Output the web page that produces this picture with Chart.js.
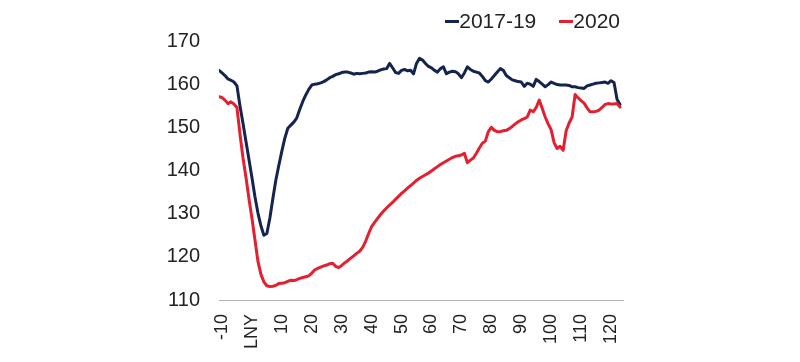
<!DOCTYPE html>
<html>
<head>
<meta charset="utf-8">
<script src="https://cdn.jsdelivr.net/npm/chart.js@4/dist/chart.umd.min.js"></script>
<style>
  html, body { margin: 0; padding: 0; background: #fff; }
  #wrap { position: relative; width: 800px; height: 362px; }
  #legend { position: absolute; right: 180px; top: 8px; display: flex; gap: 23px;
            font-family: "Liberation Sans", Arial, sans-serif; font-size: 21px; color: #222; line-height: 26px; }
  #legend .item { display: flex; align-items: center; }
  #legend .dash { display: inline-block; width: 14px; height: 3px; margin-right: 0; }
</style>
</head>
<body>
<div id="wrap">
  <canvas id="c" width="800" height="362"></canvas>
  <div id="legend"></div>
</div>
<script>
// Days relative to Lunar New Year (LNY = day 0)
const days = [-11,-10,-9,-8,-7,-6,-5,-4,-3,-2,-1,0,1,2,3,4,5,6,7,8,9,10,11,12,13,14,15,16,17,18,19,20,21,22,23,24,25,26,27,28,29,30,31,32,33,34,35,36,37,38,39,40,41,42,43,44,45,46,47,48,49,50,51,52,53,54,55,56,57,58,59,60,61,62,63,64,65,66,67,68,69,70,71,72,73,74,75,76,77,78,79,80,81,82,83,84,85,86,87,88,89,90,91,92,93,94,95,96,97,98,99,100,101,102,103,104,105,106,107,108,109,110,111,112,113,114,115,116,117,118,119,120,121,122,123];

const series2017_19 = [163.2,162.6,162.0,161.2,160.9,160.5,159.6,155.0,151.0,146.8,142.6,138.4,134.0,130.2,127.2,125.0,125.4,129.0,133.5,137.8,141.2,144.5,147.5,149.8,150.5,151.2,152.2,154.2,156.0,157.5,158.8,159.8,160.0,160.1,160.3,160.6,161.0,161.5,161.8,162.2,162.4,162.7,162.8,162.8,162.6,162.3,162.5,162.4,162.5,162.6,162.8,162.9,162.8,163.0,163.3,163.5,163.6,164.8,163.8,162.7,162.5,163.2,163.4,163.1,163.2,162.4,164.8,166.0,165.6,164.8,164.1,163.8,163.2,162.8,163.6,164.0,162.4,162.8,163.0,162.9,162.4,161.5,162.6,164.0,163.4,163.0,162.8,162.6,161.8,160.8,160.5,161.2,162.0,162.8,163.6,163.2,162.0,161.5,161.0,160.8,160.6,160.5,159.5,160.2,160.0,159.5,161.1,160.6,160.0,159.4,159.9,160.5,160.2,159.9,159.8,159.8,159.8,159.7,159.4,159.4,159.2,159.1,159.0,159.6,159.8,160.0,160.2,160.3,160.4,160.5,160.2,160.8,160.4,156.5,155.3];

const series2020 = [157.1,156.9,156.3,155.5,155.9,155.4,154.6,148.5,143.0,138.5,133.5,129.0,124.0,119.0,116.0,114.2,113.3,113.1,113.2,113.4,113.8,113.9,114.0,114.3,114.6,114.5,114.7,115.0,115.2,115.4,115.6,116.2,117.0,117.3,117.6,117.9,118.1,118.4,118.5,117.8,117.5,118.0,118.6,119.1,119.7,120.2,120.8,121.3,122.2,123.6,125.4,127.0,128.0,128.9,129.8,130.6,131.3,132.0,132.6,133.3,134.0,134.7,135.3,135.9,136.5,137.1,137.7,138.2,138.6,139.0,139.4,139.9,140.4,140.9,141.4,141.8,142.2,142.6,143.0,143.3,143.4,143.6,144.0,141.8,142.4,142.9,144.0,145.2,146.3,146.8,149.0,150.0,149.3,149.0,149.0,149.2,149.3,149.7,150.2,150.8,151.3,151.7,152.0,152.4,154.0,153.6,154.6,156.3,154.4,152.4,150.8,149.4,146.4,145.1,145.6,144.7,149.2,151.0,152.4,157.6,156.8,156.2,155.6,154.5,153.6,153.6,153.7,154.0,154.6,155.3,155.5,155.4,155.4,155.5,154.7];

const seriesNames = ['2017-19', '2020'];
const seriesColors = ['#14244f', '#e3202f'];

const xTickValues = [-10,0,10,20,30,40,50,60,70,80,90,100,110,120];
const xTickLabels = ['-10','LNY','10','20','30','40','50','60','70','80','90','100','110','120'];
const yTickValues = [110,120,130,140,150,160,170];

const allSeries = [series2017_19, series2020];
const datasets = allSeries.map((vals, i) => ({
  label: seriesNames[i],
  data: days.map((d, k) => ({ x: d, y: vals[k] })),
  borderColor: seriesColors[i],
  backgroundColor: seriesColors[i],
  borderWidth: 3,
  pointRadius: 0,
  tension: 0,
  borderJoinStyle: 'round',
  borderCapStyle: 'round'
}));

const FONT = '"Liberation Sans", Arial, sans-serif';

const chart = new Chart(document.getElementById('c'), {
  type: 'line',
  data: { datasets: datasets.slice().reverse() },
  options: {
    responsive: false,
    animation: false,
    layout: { padding: { left: 0, right: 177, top: 41, bottom: 0 } },
    plugins: { legend: { display: false }, tooltip: { enabled: false } },
    scales: {
      x: {
        type: 'linear',
        min: -11,
        max: 124,
        grid: { display: false, drawTicks: false },
        border: { display: true, color: '#b3b3b3', width: 1 },
        afterBuildTicks: (s) => { s.ticks = xTickValues.map(v => ({ value: v })); },
        afterFit: (s) => { s.height = 62; },
        ticks: {
          minRotation: 90, maxRotation: 90, autoSkip: false, padding: 14,
          color: '#222', font: { family: FONT, size: 18 },
          callback: (v) => { const i = xTickValues.indexOf(v); return i >= 0 ? xTickLabels[i] : ''; }
        }
      },
      y: {
        min: 110,
        max: 170,
        grid: { display: false, drawTicks: false },
        border: { display: false },
        afterBuildTicks: (s) => { s.ticks = yTickValues.map(v => ({ value: v })); },
        afterFit: (s) => { s.width = 219; },
        ticks: { padding: 19, color: '#222', font: { family: FONT, size: 20 } }
      }
    }
  }
});

// HTML legend built from the chart's datasets
const legend = document.getElementById('legend');
seriesNames.forEach((name, i) => {
  const item = document.createElement('div');
  item.className = 'item';
  const dash = document.createElement('span');
  dash.className = 'dash';
  dash.style.background = seriesColors[i];
  const txt = document.createElement('span');
  txt.textContent = name;
  item.appendChild(dash);
  item.appendChild(txt);
  legend.appendChild(item);
});
</script>
</body>
</html>
